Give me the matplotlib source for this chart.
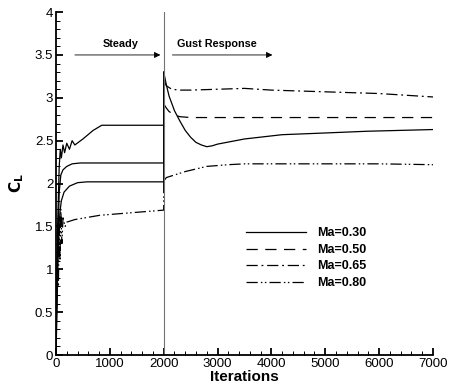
import matplotlib
matplotlib.use("Agg")
import matplotlib.pyplot as plt
from matplotlib.ticker import MultipleLocator, FormatStrFormatter

plt.rcParams['font.family'] = ['Liberation Sans', 'DejaVu Sans']

labels = ["Ma=0.30", "Ma=0.50", "Ma=0.65", "Ma=0.80"]
styles = ["-", (0, (9, 6)), (0, (9, 3, 1.5, 3)), (0, (9, 2.5, 1.2, 2, 1.2, 2.5))]
steady_styles = ["-", "-", "-", styles[3]]

# steady phase (0..2000 iterations)
steady_x = [
    [0, 15, 30, 45, 60, 80, 100, 150, 250, 400, 575, 2000],
    [0, 15, 30, 60, 90, 130, 200, 300, 450, 2000],
    [0, 15, 30, 60, 80, 100, 130, 160, 200, 250, 300, 350, 500, 690, 850, 2000],
    [0, 15, 30, 45, 60, 75, 90, 110, 130, 170, 200, 350, 816, 2000],
]
steady_y = [
    [0.0, 0.4, 0.9, 1.25, 1.55, 1.7, 1.8, 1.9, 1.97, 2.01, 2.02, 2.02],
    [0.1, 0.6, 1.2, 1.9, 2.1, 2.16, 2.2, 2.23, 2.24, 2.24],
    [0.2, 0.8, 1.5, 2.2, 2.4, 2.3, 2.45, 2.36, 2.47, 2.4, 2.5, 2.45, 2.52, 2.62, 2.68, 2.68],
    [0.2, 0.7, 1.0, 0.8, 1.6, 1.1, 1.7, 1.3, 1.6, 1.5, 1.55, 1.58, 1.63, 1.69],
]

# gust response phase (2000..7000 iterations)
gust_x = [
    [2000, 2050, 2100, 2200, 2300, 2400, 2500, 2600, 2700, 2800, 2900, 3000, 3500, 4200, 5000, 5770, 7000],
    [2000, 2050, 2100, 2200, 2300, 2500, 3000, 5000, 7000],
    [2000, 2050, 2150, 2300, 2500, 3000, 3500, 4000, 4500, 5000, 5500, 6000, 6500, 7000],
    [2000, 2050, 2200, 2400, 2600, 2800, 3000, 3200, 3500, 4000, 5000, 6000, 7000],
]
gust_y = [
    [3.3, 3.15, 3.02, 2.85, 2.73, 2.62, 2.54, 2.48, 2.45, 2.43, 2.44, 2.46, 2.52, 2.57, 2.59, 2.61, 2.63],
    [2.93, 2.88, 2.84, 2.8, 2.78, 2.77, 2.77, 2.77, 2.77],
    [3.2, 3.14, 3.1, 3.09, 3.09, 3.1, 3.11, 3.09, 3.08, 3.07, 3.06, 3.05, 3.03, 3.01],
    [2.03, 2.07, 2.1, 2.14, 2.17, 2.2, 2.21, 2.22, 2.23, 2.23, 2.23, 2.23, 2.22],
]

fig = plt.figure(figsize=(4.54, 3.90), dpi=100)
ax = fig.add_axes([0.1233, 0.0897, 0.8304, 0.8793])

for i in range(4):
    ax.plot(steady_x[i] + gust_x[i][:1], steady_y[i] + gust_y[i][:1],
            color="black", lw=0.9, linestyle=steady_styles[i])
    ax.plot(gust_x[i], gust_y[i], color="black", lw=0.9,
            linestyle=styles[i], label=labels[i])

# phase separator and arrows
ax.axvline(2000, color="0.45", lw=0.8)
ax.annotate("", xy=(1990, 3.5), xytext=(300, 3.5),
            arrowprops=dict(arrowstyle="-|>", color="black", lw=0.6,
                            mutation_scale=9))
ax.annotate("", xy=(4070, 3.5), xytext=(2110, 3.5),
            arrowprops=dict(arrowstyle="-|>", color="black", lw=0.6,
                            mutation_scale=9))
ax.text(1200, 3.57, "Steady", ha="center", va="bottom", fontsize=7.8, weight="bold")
ax.text(2980, 3.57, "Gust Response", ha="center", va="bottom", fontsize=7.8, weight="bold")

ax.set_xlim(0, 7000)
ax.set_ylim(0, 4)
ax.xaxis.set_major_locator(MultipleLocator(1000))
ax.xaxis.set_minor_locator(MultipleLocator(200))
ax.yaxis.set_major_locator(MultipleLocator(0.5))
ax.yaxis.set_minor_locator(MultipleLocator(0.1))
ax.yaxis.set_major_formatter(FormatStrFormatter("%g"))
ax.tick_params(which="both", direction="in", labelsize=9.5, pad=2)
ax.tick_params(which="major", length=5, width=1.3)
ax.tick_params(which="minor", length=3, width=0.7)
ax.spines["top"].set_visible(False)
ax.spines["right"].set_visible(False)
ax.spines["left"].set_linewidth(1.3)
ax.spines["bottom"].set_linewidth(1.3)

ax.set_xlabel("Iterations", fontsize=11, weight="bold", labelpad=0)
ax.set_ylabel(r"$\mathbf{C_L}$", fontsize=11, labelpad=6)

leg = ax.legend(loc="upper left", bbox_to_anchor=(0.505, 0.372), frameon=False,
                fontsize=9, handlelength=4.8, handletextpad=0.9,
                labelspacing=0.36, borderaxespad=0, borderpad=0)
for t in leg.get_texts():
    t.set_fontweight("bold")

fig.savefig("out.png", dpi=100)
